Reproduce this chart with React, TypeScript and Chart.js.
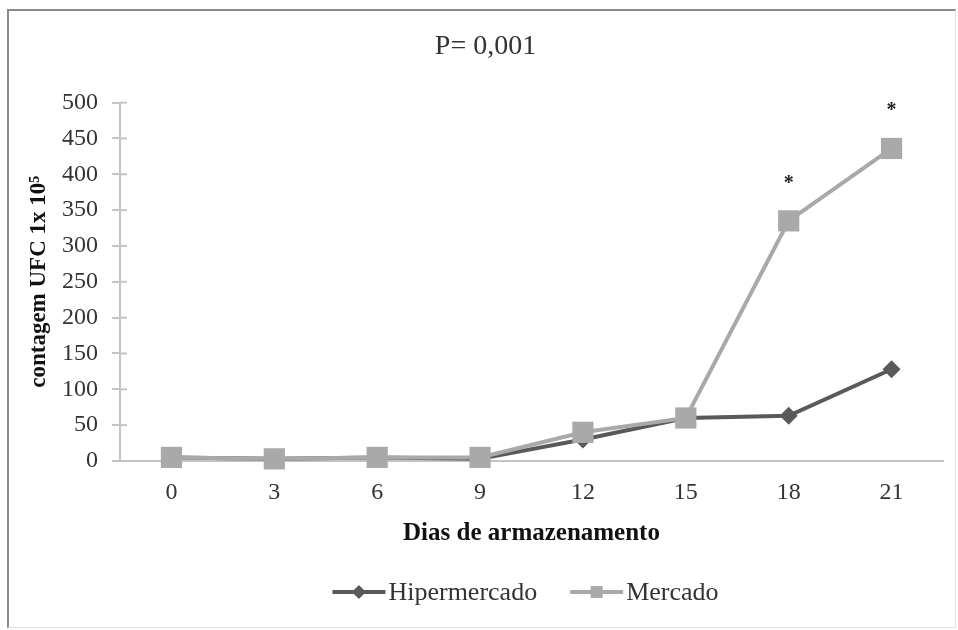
import React, { useEffect, useRef } from 'react';
import { Chart, registerables } from 'chart.js';

Chart.register(...registerables);

const categories = ['0', '3', '6', '9', '12', '15', '18', '21'];
const hipermercado = [5, 3, 5, 3, 30, 60, 63, 128];
const mercado = [5, 3, 5, 5, 40, 60, 335, 436];
const significance = ['', '', '', '', '', '', '*', '*'];
const seriesNames = ['Hipermercado', 'Mercado'];
const chartTitle = 'P= 0,001';
const xTitle = 'Dias de armazenamento';
const yTitle = 'contagem UFC 1x 10⁵';
const yMin = 0;
const yMax = 500;
const yStep = 50;

const FONT = '"Liberation Serif", "Times New Roman", serif';
const DARK = '#595959';
const LIGHT = '#a9a9a9';
const AXIS = '#c4c4c4';
const TEXT = '#333333';

const asteriskPlugin = {
  id: 'asterisks',
  afterDatasetsDraw(chart: any) {
    const meta = chart.getDatasetMeta(1);
    const ctx = chart.ctx;
    ctx.save();
    ctx.fillStyle = '#222';
    ctx.font = `bold 20px ${FONT}`;
    ctx.textAlign = 'center';
    ctx.textBaseline = 'alphabetic';
    meta.data.forEach((pt: any, i: number) => {
      const s = significance[i];
      if (s) ctx.fillText(s, pt.x, pt.y - 32);
    });
    ctx.restore();
  },
};

const innerTickPlugin = {
  id: 'innerTicks',
  afterDraw(chart: any) {
    const y = chart.scales.y;
    const ctx = chart.ctx;
    const left = chart.chartArea.left;
    ctx.save();
    ctx.strokeStyle = AXIS;
    ctx.lineWidth = 2;
    y.ticks.forEach((t: any) => {
      if (t.value === 0) return;
      const py = y.getPixelForValue(t.value);
      ctx.beginPath();
      ctx.moveTo(left, py);
      ctx.lineTo(left + 7, py);
      ctx.stroke();
    });
    ctx.restore();
  },
};

const legendPlugin = {
  id: 'lineLegend',
  afterDraw(chart: any) {
    const ctx = chart.ctx;
    const area = chart.chartArea;
    const swatchW = 53;
    const gapText = 3;
    const gapItem = 33;
    const cy = 592;
    ctx.save();
    ctx.font = `26px ${FONT}`;
    const widths = seriesNames.map((n) => ctx.measureText(n).width);
    const total = widths.reduce((a, w) => a + swatchW + gapText + w, 0) + gapItem * (seriesNames.length - 1);
    let x = (area.left + area.right) / 2 - 6 - total / 2;
    seriesNames.forEach((name, i) => {
      const ds = chart.data.datasets[i];
      const color = ds.borderColor;
      ctx.strokeStyle = color;
      ctx.fillStyle = color;
      ctx.lineWidth = 4;
      ctx.beginPath();
      ctx.moveTo(x, cy);
      ctx.lineTo(x + swatchW, cy);
      ctx.stroke();
      const mx = x + swatchW / 2;
      ctx.beginPath();
      if (ds.pointStyle === 'rectRot') {
        ctx.moveTo(mx, cy - 7);
        ctx.lineTo(mx + 7, cy);
        ctx.lineTo(mx, cy + 7);
        ctx.lineTo(mx - 7, cy);
        ctx.closePath();
      } else {
        ctx.rect(mx - 6, cy - 6, 12, 12);
      }
      ctx.fill();
      ctx.fillStyle = TEXT;
      ctx.textAlign = 'left';
      ctx.textBaseline = 'middle';
      ctx.fillText(name, x + swatchW + gapText, cy + 1);
      x += swatchW + gapText + widths[i] + gapItem;
    });
    ctx.restore();
  },
};

export default function App() {
  const ref = useRef<HTMLCanvasElement>(null);

  useEffect(() => {
    const chart = new Chart(ref.current!, {
      type: 'line',
      data: {
        labels: categories,
        datasets: [
          {
            label: seriesNames[0],
            data: hipermercado,
            order: 2,
            clip: false,
            borderColor: DARK,
            backgroundColor: DARK,
            borderWidth: 4,
            pointStyle: 'rectRot',
            pointRadius: 9,
            pointHoverRadius: 9,
            pointBorderWidth: 0,
            tension: 0,
          },
          {
            label: seriesNames[1],
            data: mercado,
            order: 1,
            clip: false,
            borderColor: LIGHT,
            backgroundColor: LIGHT,
            borderWidth: 4,
            pointStyle: 'rect',
            pointRadius: 15,
            pointHoverRadius: 15,
            pointBorderWidth: 0,
            tension: 0,
          },
        ],
      },
      options: {
        responsive: false,
        animation: false,
        layout: { padding: { left: 25, right: 12, top: 10, bottom: 79 } },
        plugins: {
          tooltip: { enabled: false },
          legend: { display: false },
          title: {
            display: true,
            text: chartTitle,
            color: TEXT,
            font: { family: FONT, size: 28, weight: 'normal' },
            padding: { top: 20, bottom: 39 },
          },
        },
        scales: {
          x: {
            type: 'category',
            offset: true,
            grid: { display: false, drawTicks: false },
            border: { display: true, color: AXIS, width: 2 },
            ticks: {
              color: TEXT,
              padding: 17,
              font: { family: FONT, size: 24 },
            },
            title: {
              display: true,
              text: xTitle,
              color: '#111',
              font: { family: FONT, size: 25, weight: 'bold' },
              padding: { top: 10, bottom: 2 },
            },
            afterFit: (s: any) => {
              s.height = 90;
            },
          },
          y: {
            min: yMin,
            max: yMax,
            grid: { drawOnChartArea: false, drawTicks: true, tickLength: 8, color: AXIS, lineWidth: 2 },
            border: { display: true, color: AXIS, width: 2 },
            ticks: {
              stepSize: yStep,
              color: TEXT,
              padding: 14,
              font: { family: FONT, size: 24 },
            },
            title: {
              display: true,
              text: yTitle,
              color: '#111',
              font: { family: FONT, size: 23, weight: 'bold' },
              padding: { top: 0, bottom: 2 },
            },
            afterFit: (s: any) => {
              s.width = 95;
            },
          },
        },
      },
      plugins: [asteriskPlugin, innerTickPlugin, legendPlugin],
    });
    return () => chart.destroy();
  }, []);

  return (
    <div style={{ position: 'fixed', left: 0, top: 0, width: 958, height: 630, background: '#fff' }}>
      <div
        style={{
          position: 'absolute',
          left: 7,
          top: 9,
          width: 946,
          height: 616,
          borderLeft: '2px solid #8a8a8a',
          borderTop: '2px solid #8a8a8a',
          borderRight: '1px solid #e2e2e2',
          borderBottom: '1px solid #e2e2e2',
        }}
      />
      <canvas ref={ref} width={958} height={630} style={{ position: 'absolute', left: 0, top: 0 }} />
    </div>
  );
}
